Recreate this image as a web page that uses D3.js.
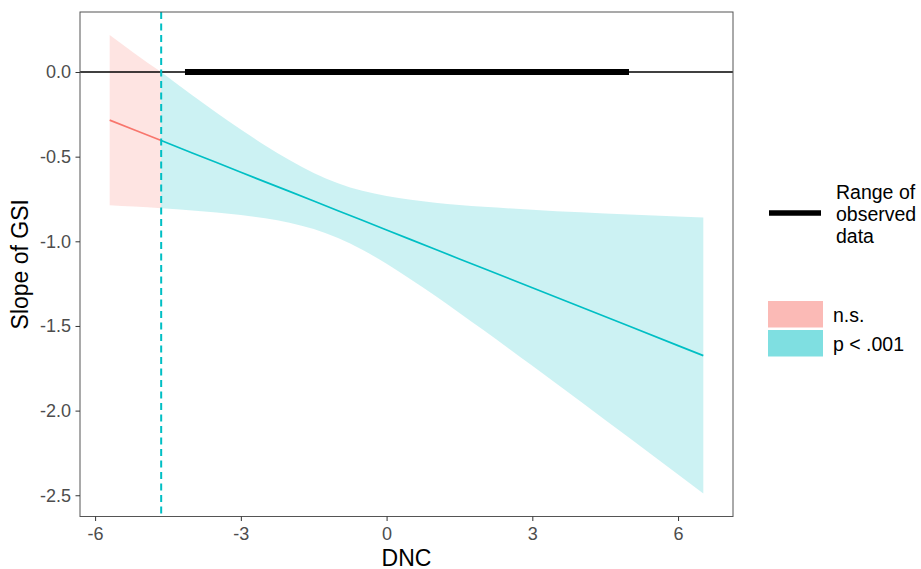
<!DOCTYPE html>
<html>
<head>
<meta charset="utf-8">
<script src="https://cdn.jsdelivr.net/npm/d3@7"></script>
<style>
body { margin: 0; background: #fff; }
text { font-family: "Liberation Sans", Arial, sans-serif; }
</style>
</head>
<body>
<script>
// values
var dnc   = [-5.7, -5.2, -4.64, -4, -3.5, -3, -2.5, -2, -1.5, -1, -0.5, 0, 0.5, 1, 1.5, 2, 3, 4, 5, 6, 6.52];
var slope = [-0.284, -0.341, -0.405, -0.478, -0.535, -0.592, -0.649, -0.705, -0.762, -0.819, -0.876, -0.933, -0.990, -1.047, -1.104, -1.161, -1.274, -1.388, -1.502, -1.616, -1.675];
var lower = [-0.787, -0.795, -0.805, -0.818, -0.830, -0.845, -0.864, -0.890, -0.928, -0.981, -1.050, -1.133, -1.225, -1.322, -1.423, -1.526, -1.735, -1.947, -2.162, -2.378, -2.490];
var upper = [0.219, 0.113, 0.000, -0.138, -0.240, -0.339, -0.434, -0.520, -0.596, -0.657, -0.702, -0.733, -0.755, -0.772, -0.785, -0.796, -0.813, -0.829, -0.842, -0.854, -0.860];

var jnPoint = -4.64;
var observedRange = [-4.15, 4.99];

var xTicks = [-6, -3, 0, 3, 6];
var yTicks = [0, -0.5, -1, -1.5, -2, -2.5];

var groupLabels = ["n.s.", "p < .001"];
var groupColors = ["#F8766D", "#00BFC4"];
var rangeLabel = ["Range of", "observed", "data"];

function init(){
    var width = 921, height = 569;
    var left = 80, right = 733, top = 12, bottom = 516.5;

    var svg = d3.select("body")
        .append("svg")
        .attr("width", width)
        .attr("height", height);

    var rows = dnc.map(function(d, i) {
        return { x: d, est: slope[i], lo: lower[i], hi: upper[i] };
    });
    var groups = [
        rows.filter(function(d) { return d.x <= jnPoint; }),
        rows.filter(function(d) { return d.x >= jnPoint; })
    ];

    // ggplot style 5% expansion
    var xr = d3.extent(dnc), xs = xr[1] - xr[0];
    var yr = [d3.min(lower), d3.max(upper)], ys = yr[1] - yr[0];

    var x = d3.scaleLinear()
        .domain([xr[0] - 0.05 * xs, xr[1] + 0.05 * xs])
        .range([left, right]);
    var y = d3.scaleLinear()
        .domain([yr[0] - 0.05 * ys, yr[1] + 0.05 * ys])
        .range([bottom, top]);

    var area = d3.area()
        .curve(d3.curveMonotoneX)
        .x(function(d) { return x(d.x); })
        .y0(function(d) { return y(d.lo); })
        .y1(function(d) { return y(d.hi); });

    var line = d3.line()
        .x(function(d) { return x(d.x); })
        .y(function(d) { return y(d.est); });

    var plot = svg.append("g");

    plot.selectAll("path.band")
        .data(groups)
        .enter()
        .append("path")
        .attr("class", "band")
        .attr("d", area)
        .attr("fill", function(d, i) { return groupColors[i]; })
        .attr("fill-opacity", 0.2);

    // zero line and observed range
    plot.append("line")
        .attr("x1", left).attr("x2", right)
        .attr("y1", y(0)).attr("y2", y(0))
        .attr("stroke", "#000")
        .attr("stroke-width", 1.5);

    plot.append("line")
        .attr("x1", x(observedRange[0])).attr("x2", x(observedRange[1]))
        .attr("y1", y(0)).attr("y2", y(0))
        .attr("stroke", "#000")
        .attr("stroke-width", 6);

    plot.selectAll("path.est")
        .data(groups)
        .enter()
        .append("path")
        .attr("class", "est")
        .attr("d", line)
        .attr("fill", "none")
        .attr("stroke", function(d, i) { return groupColors[i]; })
        .attr("stroke-width", 1.7);

    plot.append("line")
        .attr("x1", x(jnPoint)).attr("x2", x(jnPoint))
        .attr("y1", top).attr("y2", bottom)
        .attr("stroke", groupColors[1])
        .attr("stroke-width", 2)
        .attr("stroke-dasharray", "7,4.5");

    // panel border
    svg.append("rect")
        .attr("x", left).attr("y", top)
        .attr("width", right - left).attr("height", bottom - top)
        .attr("fill", "none")
        .attr("stroke", "#555")
        .attr("stroke-width", 1);

    var xAxis = svg.append("g")
        .attr("transform", "translate(0," + bottom + ")")
        .call(d3.axisBottom(x).tickValues(xTicks).tickSizeInner(4.5).tickSizeOuter(0).tickPadding(6)
            .tickFormat(function(d) { return String(d); }));

    var yAxis = svg.append("g")
        .attr("transform", "translate(" + left + ",0)")
        .call(d3.axisLeft(y).tickValues(yTicks).tickSizeInner(4.5).tickSizeOuter(0).tickPadding(4.5)
            .tickFormat(function(d) { return d.toFixed(1); }));

    [xAxis, yAxis].forEach(function(a) {
        a.select(".domain").remove();
        a.selectAll(".tick line").attr("stroke", "#333").attr("stroke-width", 1);
        a.selectAll(".tick text")
            .attr("fill", "#4d4d4d")
            .style("font-size", "18px")
            .style("font-family", "'Liberation Sans', Arial, sans-serif");
    });

    svg.append("text")
        .attr("x", (left + right) / 2)
        .attr("y", 565.5)
        .attr("text-anchor", "middle")
        .style("font-size", "23px")
        .text("DNC");

    svg.append("text")
        .attr("transform", "translate(28," + (top + bottom) / 2 + ") rotate(-90)")
        .attr("text-anchor", "middle")
        .style("font-size", "23px")
        .text("Slope of GSI");

    // legend: observed range
    var leg1 = svg.append("g").attr("transform", "translate(768,0)");
    leg1.append("line")
        .attr("x1", 1).attr("x2", 53)
        .attr("y1", 213).attr("y2", 213)
        .attr("stroke", "#000")
        .attr("stroke-width", 5.5);
    leg1.selectAll("text")
        .data(rangeLabel)
        .enter()
        .append("text")
        .attr("x", 68)
        .attr("y", function(d, i) { return 198.5 + i * 22; })
        .style("font-size", "19.5px")
        .text(function(d) { return d; });

    // legend: significance
    var leg2 = svg.append("g").attr("transform", "translate(768,301)");
    var keys = leg2.selectAll("g")
        .data(groupLabels)
        .enter()
        .append("g")
        .attr("transform", function(d, i) { return "translate(0," + i * 29 + ")"; });
    keys.append("rect")
        .attr("width", 55).attr("height", 26.5)
        .attr("fill", function(d, i) { return groupColors[i]; })
        .attr("fill-opacity", 0.5);
    keys.append("text")
        .attr("x", 65)
        .attr("y", 20.5)
        .style("font-size", "19.5px")
        .text(function(d) { return d; });
}

window.onload = init;
</script>
</body>
</html>
